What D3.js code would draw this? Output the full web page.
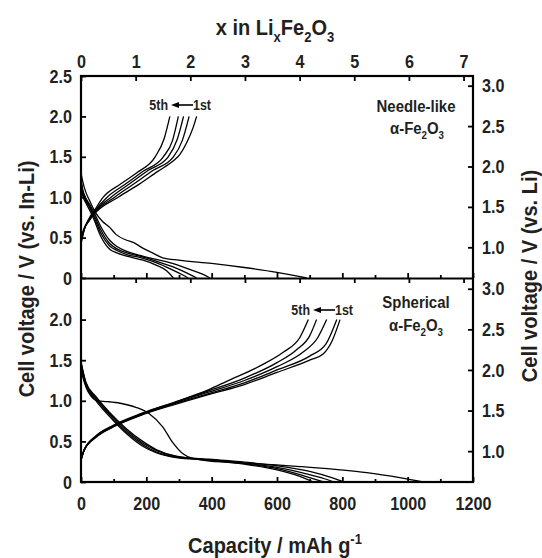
<!DOCTYPE html>
<html>
<head>
<meta charset="utf-8">
<script src="https://cdn.jsdelivr.net/npm/d3@7"></script>
<style>
body { margin: 0; background: #fff; }
svg text { font-family: "Liberation Sans", Arial, sans-serif; font-weight: bold; fill: #231f20; }
</style>
</head>
<body>
<svg width="542" height="558"></svg>
<script>
// capacity (mAh/g), voltage (V vs. In-Li)
// needle-like a-Fe2O3
var needleDischarge1 = [[0,1.3],[5,1.2],[15,1.06],[25,0.97],[46,0.8],[66,0.7],[87,0.63],[107,0.54],[138,0.47],[160,0.44],[189,0.37],[219,0.31],[250,0.25],[300,0.22],[400,0.18],[500,0.13],[600,0.07],[691,0]]
var needleDischarge2 = [[0,1.22],[5,1.1],[15,0.99],[25,0.92],[40,0.81],[60,0.64],[87,0.47],[110,0.39],[140,0.33],[180,0.28],[230,0.23],[280,0.18],[330,0.11],[370,0.05],[395,0]]
var needleDischarge3 = [[0,1.2],[5,1.08],[15,0.97],[25,0.9],[40,0.78],[60,0.6],[87,0.43],[110,0.36],[140,0.31],[180,0.27],[230,0.21],[280,0.14],[325,0.06],[354,0]]
var needleDischarge4 = [[0,1.16],[5,1.05],[15,0.95],[25,0.88],[40,0.75],[60,0.56],[87,0.4],[110,0.34],[140,0.29],[185,0.25],[230,0.19],[275,0.11],[310,0.04],[328,0]]
var needleDischarge5 = [[0,1.12],[5,1.02],[15,0.93],[25,0.85],[40,0.72],[60,0.52],[87,0.36],[110,0.31],[140,0.27],[190,0.22],[230,0.16],[262,0.09],[283,0]]
var needleCharge1 = [[0,0.5],[10,0.62],[25,0.71],[40,0.79],[114,1.0],[170,1.14],[235,1.32],[283,1.45],[303,1.53],[323,1.67],[344,1.87],[354,2.0]]
var needleCharge2 = [[0,0.48],[10,0.61],[25,0.71],[40,0.8],[103,1.0],[160,1.16],[220,1.33],[283,1.5],[310,1.7],[331,2.0]]
var needleCharge3 = [[0,0.46],[10,0.61],[25,0.72],[40,0.81],[92,1.0],[150,1.17],[205,1.33],[267,1.5],[295,1.72],[314,2.0]]
var needleCharge4 = [[0,0.44],[10,0.6],[25,0.73],[40,0.82],[80,1.0],[135,1.16],[190,1.32],[252,1.5],[280,1.7],[298,2.0]]
var needleCharge5 = [[0,0.42],[10,0.6],[25,0.74],[40,0.83],[68,1.0],[120,1.16],[170,1.3],[227,1.5],[255,1.73],[272,2.0]]

// spherical a-Fe2O3
var sphereDischarge1 = [[0,1.4],[5,1.3],[15,1.17],[30,1.06],[50,1.0],[80,0.99],[120,0.97],[168,0.92],[209,0.84],[250,0.68],[280,0.49],[311,0.35],[342,0.29],[413,0.25],[517,0.23],[670,0.19],[793,0.15],[875,0.115],[980,0.05],[1048,0]]
var sphereDischarge2 = [[0,1.48],[15,1.23],[46,1.05],[87,0.86],[138,0.66],[189,0.5],[230,0.4],[291,0.32],[393,0.28],[500,0.245],[600,0.2],[700,0.13],[770,0.05],[805,0]]
var sphereDischarge3 = [[0,1.47],[15,1.22],[46,1.03],[87,0.845],[138,0.64],[189,0.48],[230,0.39],[291,0.315],[393,0.275],[500,0.235],[600,0.18],[690,0.1],[745,0.04],[775,0]]
var sphereDischarge4 = [[0,1.46],[15,1.2],[46,1.02],[87,0.83],[138,0.62],[189,0.46],[230,0.37],[291,0.305],[393,0.27],[500,0.225],[600,0.165],[680,0.08],[745,0]]
var sphereDischarge5 = [[0,1.45],[15,1.19],[46,1.0],[87,0.81],[138,0.6],[189,0.44],[230,0.36],[291,0.3],[393,0.27],[500,0.22],[600,0.15],[670,0.07],[711,0]]
var sphereCharge1 = [[0,0.27],[10,0.39],[46,0.55],[100,0.68],[189,0.83],[291,0.96],[393,1.08],[500,1.2],[600,1.35],[700,1.5],[742,1.58],[770,1.75],[793,2.0]]
var sphereCharge2 = [[0,0.27],[10,0.39],[46,0.555],[100,0.685],[189,0.835],[291,0.97],[393,1.09],[500,1.22],[600,1.38],[700,1.55],[750,1.7],[783,2.0]]
var sphereCharge3 = [[0,0.27],[10,0.4],[46,0.56],[100,0.69],[189,0.84],[291,0.98],[393,1.11],[500,1.25],[600,1.42],[680,1.6],[725,1.78],[752,2.0]]
var sphereCharge4 = [[0,0.27],[10,0.4],[46,0.565],[100,0.695],[189,0.845],[291,0.985],[393,1.125],[500,1.28],[600,1.47],[660,1.63],[700,1.8],[721,2.0]]
var sphereCharge5 = [[0,0.27],[10,0.4],[46,0.57],[100,0.7],[189,0.85],[291,0.99],[393,1.14],[446,1.24],[548,1.43],[620,1.6],[670,1.78],[696,2.0]]

var capTicks = [0, 200, 400, 600, 800, 1000, 1200]
var capMinor = [100, 300, 500, 700, 900, 1100]
var liTicks = [0, 1, 2, 3, 4, 5, 6, 7]
var leftTicksTop = [0, 0.5, 1.0, 1.5, 2.0, 2.5]
var leftTicksBottom = [0, 0.5, 1.0, 1.5, 2.0]
var rightTicks = [1.0, 1.5, 2.0, 2.5, 3.0]
var mAhPerLi = 167.3
var inLiOffset = 0.62

var left = 81, right = 473
var x = d3.scaleLinear().domain([0, 1200]).range([left, right])
var li = d3.scaleLinear().domain([0, 1200 / mAhPerLi]).range([left, right])
var yTop = d3.scaleLinear().domain([0, 2.5]).range([278, 76])
var yBot = d3.scaleLinear().domain([0, 2.5]).range([482, 279])
var yTopR = d3.scaleLinear().domain([inLiOffset, 2.5 + inLiOffset]).range([278, 76])
var yBotR = d3.scaleLinear().domain([inLiOffset, 2.5 + inLiOffset]).range([482, 279])

var svg = d3.select('svg')
var fmtV = function (d) { return d === 0 ? '0' : d3.format('.1f')(d) }

// the original uses a condensed bold face, squeeze Liberation Sans horizontally
function narrow(sel, k) {
  sel.each(function () {
    var t = d3.select(this)
    var xx = +t.attr('x') || 0
    t.attr('x', xx / k)
    t.attr('transform', (t.attr('transform') || '') + ' scale(' + k + ',1)')
  })
}

function styleAxis(g) {
  g.select('.domain').remove()
  g.selectAll('line').attr('stroke', '#000').attr('stroke-width', 1.8)
  g.selectAll('text').style('font-size', '19px').call(narrow, 0.85)
}

// curves
var panels = [
  {y: yTop, curves: [needleDischarge1, needleDischarge2, needleDischarge3, needleDischarge4, needleDischarge5,
    needleCharge1, needleCharge2, needleCharge3, needleCharge4, needleCharge5]},
  {y: yBot, curves: [sphereDischarge1, sphereDischarge2, sphereDischarge3, sphereDischarge4, sphereDischarge5,
    sphereCharge1, sphereCharge2, sphereCharge3, sphereCharge4, sphereCharge5]}
]
panels.forEach(function (p) {
  var line = d3.line()
    .x(function (d) { return x(d[0]) })
    .y(function (d) { return p.y(d[1]) })
    .curve(d3.curveMonotoneX)
  svg.append('g').selectAll('path')
    .data(p.curves)
    .enter()
    .append('path')
    .attr('d', line)
    .attr('fill', 'none')
    .attr('stroke', '#000')
    .attr('stroke-width', 1.3)
})

// axes
svg.append('g').attr('transform', 'translate(0,76)')
  .call(d3.axisTop(li).tickValues(liTicks).tickSizeInner(-5).tickSizeOuter(0).tickPadding(8).tickFormat(d3.format('d')))
  .call(styleAxis)
svg.append('g').attr('transform', 'translate(0,279)')
  .call(d3.axisTop(li).tickValues(liTicks.slice(1)).tickSizeInner(-4).tickSizeOuter(0).tickFormat(''))
  .call(styleAxis)

;[278, 482].forEach(function (yy, i) {
  svg.append('g').attr('transform', 'translate(0,' + yy + ')')
    .call(d3.axisBottom(x).tickValues(capMinor).tickSizeInner(-3).tickSizeOuter(0).tickFormat(''))
    .call(styleAxis)
  svg.append('g').attr('transform', 'translate(0,' + yy + ')')
    .call(d3.axisBottom(x).tickValues(capTicks).tickSizeInner(-5).tickSizeOuter(0).tickPadding(15)
      .tickFormat(i === 1 ? d3.format('d') : ''))
    .call(styleAxis)
})

svg.append('g').attr('transform', 'translate(' + left + ',0)')
  .call(d3.axisLeft(yTop).tickValues(leftTicksTop).tickSizeInner(-5).tickSizeOuter(0).tickPadding(9).tickFormat(fmtV))
  .call(styleAxis)
svg.append('g').attr('transform', 'translate(' + left + ',0)')
  .call(d3.axisLeft(yBot).tickValues(leftTicksBottom).tickSizeInner(-5).tickSizeOuter(0).tickPadding(9).tickFormat(fmtV))
  .call(styleAxis)
svg.append('g').attr('transform', 'translate(' + right + ',0)')
  .call(d3.axisRight(yTopR).tickValues(rightTicks).tickSizeInner(-5).tickSizeOuter(0).tickPadding(9).tickFormat(fmtV))
  .call(styleAxis)
svg.append('g').attr('transform', 'translate(' + right + ',0)')
  .call(d3.axisRight(yBotR).tickValues(rightTicks).tickSizeInner(-5).tickSizeOuter(0).tickPadding(9).tickFormat(fmtV))
  .call(styleAxis)

// frame
svg.append('rect')
  .attr('x', left).attr('y', 76).attr('width', right - left).attr('height', 482 - 76)
  .attr('fill', 'none').attr('stroke', '#000').attr('stroke-width', 2.2)
svg.append('line')
  .attr('x1', left).attr('x2', right).attr('y1', 278.5).attr('y2', 278.5)
  .attr('stroke', '#000').attr('stroke-width', 2.2)

// rich text helper: parts are [text, 'n' | 'sub' | 'sup']
function richText(g, parts, size, k) {
  var t = g.append('text').style('font-size', size + 'px').attr('text-anchor', 'middle')
  var shift = 0
  parts.forEach(function (p) {
    var target = p[1] === 'sub' ? 0.3 * size : p[1] === 'sup' ? -0.4 * size : 0
    t.append('tspan')
      .attr('dy', target - shift)
      .style('font-size', (p[1] === 'n' ? size : size * 0.65) + 'px')
      .text(p[0])
    shift = target
  })
  t.call(narrow, k)
  return t
}

richText(svg.append('g').attr('transform', 'translate(275,35)'),
  [['x in Li', 'n'], ['x', 'sub'], ['Fe', 'n'], ['2', 'sub'], ['O', 'n'], ['3', 'sub']], 22, 0.91)
richText(svg.append('g').attr('transform', 'translate(275,553)'),
  [['Capacity / mAh g', 'n'], ['-1', 'sup']], 22, 0.91)
svg.append('text')
  .attr('transform', 'translate(34,279) rotate(-90)')
  .attr('text-anchor', 'middle')
  .style('font-size', '22px')
  .text('Cell voltage / V (vs. In-Li)')
  .call(narrow, 0.91)
svg.append('text')
  .attr('transform', 'translate(537,276) rotate(-90)')
  .attr('text-anchor', 'middle')
  .style('font-size', '22px')
  .text('Cell voltage / V (vs. Li)')
  .call(narrow, 0.91)

// panel labels
svg.append('text').attr('x', 416).attr('y', 112).attr('text-anchor', 'middle').style('font-size', '17px')
  .text('Needle-like').call(narrow, 0.88)
richText(svg.append('g').attr('transform', 'translate(417,134)'),
  [['α-Fe', 'n'], ['2', 'sub'], ['O', 'n'], ['3', 'sub']], 17, 0.88)
svg.append('text').attr('x', 416).attr('y', 308).attr('text-anchor', 'middle').style('font-size', '17px')
  .text('Spherical').call(narrow, 0.88)
richText(svg.append('g').attr('transform', 'translate(416,331)'),
  [['α-Fe', 'n'], ['2', 'sub'], ['O', 'n'], ['3', 'sub']], 17, 0.88)

// cycle arrows
function cycleLabel(x0, yb) {
  var g = svg.append('g').attr('transform', 'translate(' + x0 + ',' + yb + ')')
  g.append('text').attr('x', 18).attr('text-anchor', 'end').style('font-size', '14.5px').text('5th').call(narrow, 0.86)
  g.append('text').attr('x', 43).style('font-size', '14.5px').text('1st').call(narrow, 0.86)
  g.append('line').attr('x1', 28).attr('x2', 43).attr('y1', -5).attr('y2', -5)
    .attr('stroke', '#000').attr('stroke-width', 1.6)
  g.append('path').attr('d', 'M21,-5L29,-8L29,-2Z').attr('fill', '#000')
}
cycleLabel(150, 110)
cycleLabel(292, 315)
</script>
</body>
</html>
